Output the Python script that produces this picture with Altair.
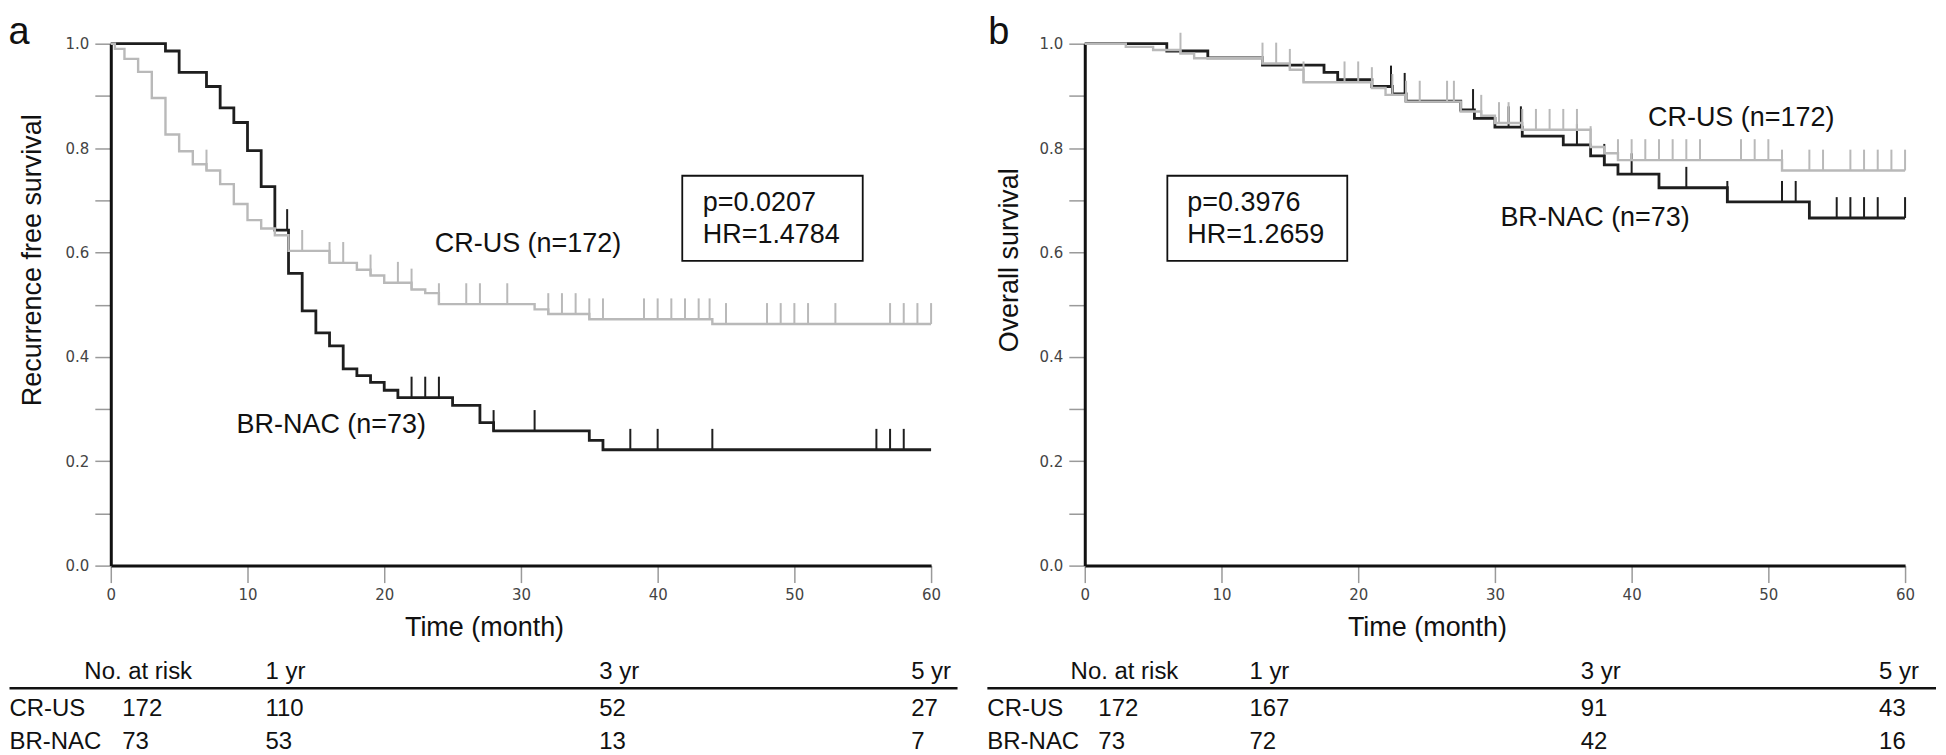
import altair as alt
import pandas as pd

# ---------------- data ----------------
month_ticks = [0, 10, 20, 30, 40, 50, 60]
surv_ticks = [round(i * 0.1, 1) for i in range(11)]

# Panel a : recurrence free survival (step times in months, survival after the step)
a_cr_time = [0, 0.3, 1, 2, 3, 4, 5, 6, 7, 8, 9, 10, 11, 12, 13, 16, 18, 19, 20, 22, 23, 24, 31, 32, 35, 44]
a_cr_surv = [1.0, 0.990, 0.971, 0.946, 0.896, 0.826, 0.794, 0.769, 0.757, 0.731, 0.693, 0.662, 0.646, 0.633,
             0.603, 0.580, 0.567, 0.556, 0.542, 0.529, 0.522, 0.501, 0.491, 0.482, 0.472, 0.463]
a_cr_cens = [7, 14, 16, 17, 19, 21, 22, 24, 26, 27, 29, 32, 33, 34, 35, 36, 39, 40, 41, 42, 43, 43.8,
             45, 48, 49, 50, 51, 53, 57, 58, 59, 60]
a_br_time = [0, 4, 5, 7, 8, 9, 10, 11, 12, 13, 14, 15, 16, 17, 18, 19, 20, 21, 25, 27, 28, 35, 36]
a_br_surv = [1.0, 0.986, 0.945, 0.918, 0.877, 0.849, 0.795, 0.726, 0.643, 0.560, 0.488, 0.446, 0.421, 0.377,
             0.364, 0.351, 0.336, 0.322, 0.307, 0.274, 0.258, 0.240, 0.222]
a_br_cens = [12.9, 22, 23, 24, 28, 31, 38, 40, 44, 56, 57, 58]

# Panel b : overall survival
b_cr_time = [0, 3, 5, 7, 8, 13, 15, 16, 21, 22, 23.5, 27.5, 29, 30, 32, 37, 38, 39, 51]
b_cr_surv = [1.0, 0.994, 0.988, 0.981, 0.972, 0.962, 0.950, 0.926, 0.915, 0.902, 0.889, 0.870, 0.862, 0.848,
             0.835, 0.802, 0.790, 0.777, 0.757]
b_cr_cens = [7, 13, 14, 15, 16, 19, 20, 21, 22.5, 23.5, 24.5, 26.5, 27, 29, 30.3, 31, 32, 33, 34, 35, 36, 37,
             39, 40, 41, 42, 43, 44, 45, 48, 49, 50, 51, 53, 54, 56, 57, 58, 59, 60]
b_br_time = [0, 6, 9, 13, 17.5, 18.5, 21, 22.5, 23.5, 27.5, 28.5, 30, 32, 35, 37, 38, 39, 42, 47, 53]
b_br_surv = [1.0, 0.986, 0.973, 0.959, 0.945, 0.931, 0.918, 0.904, 0.890, 0.873, 0.857, 0.840, 0.823, 0.806,
             0.785, 0.768, 0.750, 0.724, 0.697, 0.666]
b_br_cens = [22.4, 23.4, 28.4, 31, 31.9, 36, 38, 40, 44, 47, 51, 52, 55, 56, 57, 58, 60]

groups = ["CR-US", "BR-NAC"]
group_n = [172, 73]
group_labels = ["CR-US (n=172)", "BR-NAC (n=73)"]
risk_header = ["No. at risk", "1 yr", "3 yr", "5 yr"]
a_risk = {"CR-US": [110, 52, 27], "BR-NAC": [53, 13, 7]}
b_risk = {"CR-US": [167, 91, 43], "BR-NAC": [72, 42, 16]}
a_stats = ["p=0.0207", "HR=1.4784"]
b_stats = ["p=0.3976", "HR=1.2659"]
a_ytitle = "Recurrence free survival"
b_ytitle = "Overall survival"
x_title = "Time (month)"

# ---------------- layout / style ----------------
W, H = 822, 523
PXM = W / 60.0
COLORS = {"CR-US": "#b9b9b9", "BR-NAC": "#1e1e1e"}
WIDTHS = {"CR-US": 2.4, "BR-NAC": 2.8}
FONT = "Liberation Sans"
CENSOR_H = 0.04

LAYOUT = {
    "a": dict(letter_x=-102.5, ytitle_x=-77.5, xtitle_x=374.5,
              label_pos={"CR-US": (23.7, 0.616), "BR-NAC": (9.2, 0.269)},
              box=(41.8, 55.0, 0.584, 0.747), stats_t=43.3,
              name_px=-101.5, n0_px=11.5, header_px=-26.5, col_px=[155, 489.5, 802],
              line_px=(-101.5, 848.5)),
    "b": dict(letter_x=-96.6, ytitle_x=-74.6, xtitle_x=343.4,
              label_pos={"CR-US": (41.2, 0.858), "BR-NAC": (30.4, 0.666)},
              box=(6.04, 19.2, 0.584, 0.747), stats_t=7.5,
              name_px=-97.6, n0_px=13.6, header_px=-14.2, col_px=[165, 497, 796],
              line_px=(-97.6, 853)),
}
ROW_Y = {"header": 630, "line": 646, "CR-US": 667, "BR-NAC": 700}
YTITLE_Y = 217
XTITLE_Y = 586
STATS_S = [0.694, 0.633]

XS = alt.Scale(domain=[0, 60], nice=False, zero=False)
YS = alt.Scale(domain=[0, 1], nice=False, zero=False)
AX = alt.Axis(values=month_ticks, title=None, grid=False, domainColor="#111111", domainWidth=3,
              tickColor="#9a9a9a", tickWidth=1.5, tickSize=17, labelFont="DejaVu Sans",
              labelFontSize=15, labelColor="#444444", labelPadding=5, labelFlush=False,
              labelOverlap=False)
AY = alt.Axis(values=surv_ticks, title=None, grid=False, domainColor="#111111", domainWidth=3,
              tickColor="#9a9a9a", tickWidth=1.5, tickSize=16, labelFont="DejaVu Sans",
              labelFontSize=15, labelColor="#444444", labelPadding=6, labelFlush=False,
              labelOverlap=False,
              labelExpr="round(datum.value*10) % 2 == 0 ? format(datum.value, '.1f') : ''")


def X(f):
    return alt.X(f"{f}:Q", scale=XS, axis=AX)


def Y(f):
    return alt.Y(f"{f}:Q", scale=YS, axis=AY)


def step_at(ts, ss, t):
    v = ss[0]
    for ti, si in zip(ts, ss):
        if ti <= t:
            v = si
    return v


def curve_layers(ts, ss, cens, g):
    cdf = pd.DataFrame({"t": list(ts) + [60], "s": list(ss) + [ss[-1]]})
    kdf = pd.DataFrame({"t": cens, "s": [step_at(ts, ss, c) for c in cens]})
    line = alt.Chart(cdf).mark_line(interpolate="step-after", color=COLORS[g],
                                    strokeWidth=WIDTHS[g]).encode(x=X("t"), y=Y("s"))
    ticks = alt.Chart(kdf).transform_calculate(s2=f"datum.s + {CENSOR_H}").mark_rule(
        color=COLORS[g], strokeWidth=2).encode(x=X("t"), y=Y("s"), y2="s2:Q")
    return [line, ticks]


def text_value(txt, x, y, size=27, angle=0, align="left", baseline="middle"):
    return alt.Chart(pd.DataFrame({"label": [txt]})).mark_text(
        font=FONT, fontSize=size, angle=angle, align=align, baseline=baseline, color="#111111"
    ).encode(x=alt.value(x), y=alt.value(y), text="label:N")


def panel(key, letter, curves, stats, ytitle, risk):
    L = LAYOUT[key]
    layers = []
    (cr_t, cr_s, cr_c), (br_t, br_s, br_c) = curves
    layers += curve_layers(br_t, br_s, br_c, "BR-NAC")
    layers += curve_layers(cr_t, cr_s, cr_c, "CR-US")

    lab = pd.DataFrame({"t": [L["label_pos"][g][0] for g in groups],
                        "s": [L["label_pos"][g][1] for g in groups],
                        "label": group_labels})
    layers.append(alt.Chart(lab).mark_text(font=FONT, fontSize=27, align="left", baseline="middle",
                                           color="#111111").encode(x=X("t"), y=Y("s"), text="label:N"))

    b = L["box"]
    box = pd.DataFrame({"t0": [b[0]], "t1": [b[1]], "s0": [b[2]], "s1": [b[3]]})
    layers.append(alt.Chart(box).mark_rect(fillOpacity=0, stroke="#111111", strokeWidth=1.8).encode(
        x=X("t0"), x2="t1:Q", y=Y("s0"), y2="s1:Q"))
    st = pd.DataFrame({"t": [L["stats_t"]] * 2, "s": STATS_S, "label": stats})
    layers.append(alt.Chart(st).mark_text(font=FONT, fontSize=27, align="left", baseline="middle",
                                          color="#111111").encode(x=X("t"), y=Y("s"), text="label:N"))

    layers.append(text_value(ytitle, L["ytitle_x"], YTITLE_Y, angle=270, align="center"))
    layers.append(text_value(x_title, L["xtitle_x"], XTITLE_Y, align="center"))
    layers.append(text_value(letter, L["letter_x"], 0, size=38, baseline="alphabetic"))

    # number at risk table
    hdr = pd.DataFrame({"t": [L["header_px"] / PXM] + [p / PXM for p in L["col_px"]],
                        "label": risk_header})
    layers.append(alt.Chart(hdr).mark_text(font=FONT, fontSize=24, align="left", baseline="middle",
                                           color="#111111").encode(x=X("t"), y=alt.value(ROW_Y["header"]),
                                                                   text="label:N"))
    for g, n in zip(groups, group_n):
        row = pd.DataFrame({"t": [L["name_px"] / PXM, L["n0_px"] / PXM] + [p / PXM for p in L["col_px"]],
                            "label": [g, str(n)] + [str(v) for v in risk[g]]})
        layers.append(alt.Chart(row).mark_text(font=FONT, fontSize=24, align="left", baseline="middle",
                                               color="#111111").encode(x=X("t"), y=alt.value(ROW_Y[g]),
                                                                       text="label:N"))
    layers.append(alt.Chart(pd.DataFrame({"k": [0]})).mark_rule(color="#111111", strokeWidth=2.5).encode(
        x=alt.value(L["line_px"][0]), x2=alt.value(L["line_px"][1]), y=alt.value(ROW_Y["line"])))

    return alt.layer(*layers).properties(width=W, height=H)


pa = panel("a", "a", [(a_cr_time, a_cr_surv, a_cr_cens), (a_br_time, a_br_surv, a_br_cens)],
           a_stats, a_ytitle, a_risk)
pb = panel("b", "b", [(b_cr_time, b_cr_surv, b_cr_cens), (b_br_time, b_br_surv, b_br_cens)],
           b_stats, b_ytitle, b_risk)

chart = alt.hconcat(pa, pb, spacing=154, bounds="flush").properties(
    padding={"left": 0, "top": 5, "right": 0, "bottom": 0}).configure_view(stroke=None)

chart.save("out.html", embed_options={"renderer": "svg", "actions": False})
